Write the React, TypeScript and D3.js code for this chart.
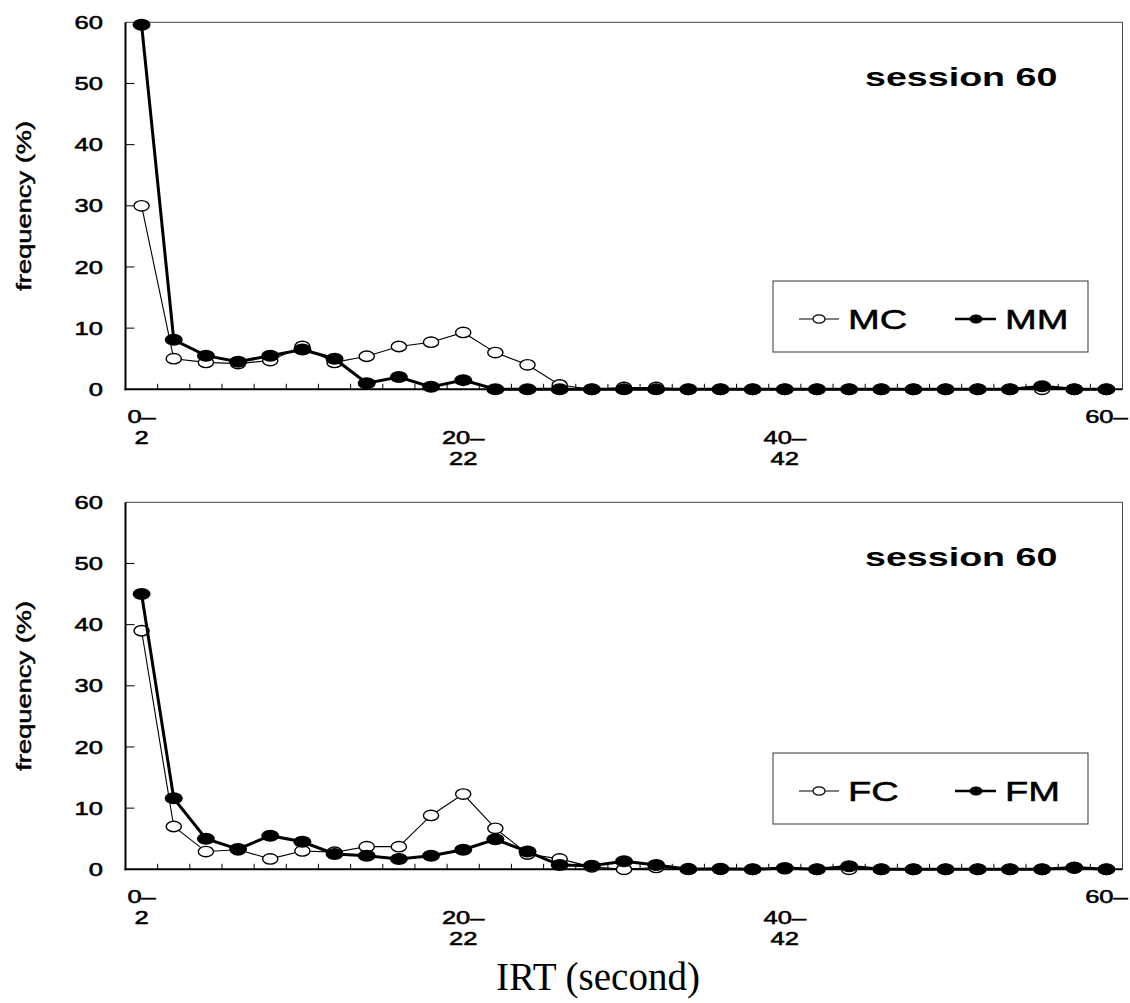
import * as d3 from 'd3';

// IRT bins (start of each 2-second bin)
const binStarts = [0, 2, 4, 6, 8, 10, 12, 14, 16, 18, 20, 22, 24, 26, 28, 30, 32, 34, 36, 38, 40, 42, 44, 46, 48, 50, 52, 54, 56, 58, 60];

// top panel, session 60 (males)
const mcValues = [30, 5.0, 4.4, 4.2, 4.7, 7.0, 4.4, 5.4, 7.0, 7.7, 9.3, 6.0, 4.0, 0.7, 0, 0.3, 0.3, 0, 0, 0, 0, 0, 0, 0, 0, 0, 0, 0, 0, 0, 0];
const mmValues = [59.6, 8.1, 5.5, 4.5, 5.5, 6.5, 5.0, 1.0, 2.0, 0.4, 1.5, 0, 0, 0, 0, 0, 0, 0, 0, 0, 0, 0, 0, 0, 0, 0, 0, 0, 0.5, 0, 0];

// bottom panel, session 60 (females)
const fcValues = [39, 7.0, 2.9, 3.2, 1.7, 3.0, 2.8, 3.7, 3.7, 8.8, 12.3, 6.7, 2.5, 1.7, 0.4, 0, 0.3, 0.1, 0, 0, 0.1, 0, 0, 0, 0, 0, 0, 0, 0, 0.2, 0];
const fmValues = [45, 11.6, 5.0, 3.3, 5.5, 4.5, 2.5, 2.2, 1.7, 2.2, 3.2, 4.9, 2.9, 0.7, 0.6, 1.3, 0.7, 0, 0.1, 0, 0.2, 0, 0.5, 0, 0, 0, 0, 0, 0, 0.3, 0];

const yTicks = [0, 10, 20, 30, 40, 50, 60];
const labelledBins = [0, 20, 40, 60];
const binLabels = [['0–', '2'], ['20–', '22'], ['40–', '42'], ['60–']];

const W = 1130, H = 1003;
const X0 = 125.5, X1 = 1122.5;
const PANEL_H = 367;
const SX = 1.38; // the source font is drawn wide
const SANS = '"Liberation Sans", Arial, sans-serif';

const x = d3.scaleBand<number>().domain(binStarts).range([X0, X1]).padding(0);
const cx = (b: number) => (x(b) as number) + x.bandwidth() / 2;

function Wide({ tx, ty, sx = SX, anchor = 'start', size, weight = 'normal', heavy = 0.55, children }: any) {
  return (
    <g transform={`translate(${tx},${ty}) scale(${sx},1)`}>
      <text textAnchor={anchor} fontSize={size} fontWeight={weight} fontFamily={SANS} fill="#000"
        stroke="#000" strokeWidth={heavy}>
        {children}
      </text>
    </g>
  );
}

function Panel({ top, openVals, filledVals, openName, filledName, legendTop }: any) {
  const y = d3.scaleLinear().domain([0, 60]).range([top + PANEL_H, top]);
  const y0 = y(0);
  const line = d3.line<number>().x((_, i) => cx(binStarts[i])).y(d => y(d));
  const labelRow = [0, 1, 1, 0];
  const rowBase = [33.7, 54.7, 75.7];
  const lgY = legendTop + 38;

  return (
    <g>
      {/* frame */}
      <line x1={X0} x2={X1} y1={top} y2={top} stroke="#444" strokeWidth={1} />
      <line x1={X1} x2={X1} y1={top} y2={y0} stroke="#444" strokeWidth={1} />
      <line x1={X0} x2={X0} y1={top} y2={y0 + 1} stroke="#000" strokeWidth={2} />
      <line x1={X0 - 1} x2={X1} y1={y0} y2={y0} stroke="#000" strokeWidth={2} />

      {yTicks.map(t => (
        <g key={t}>
          {t > 0 && t < 60 && <line x1={X0} x2={X0 + 9} y1={y(t)} y2={y(t)} stroke="#000" strokeWidth={1} />}
          <Wide tx={103} ty={y(t) + 6.6} anchor="end" size={18.5}>{t}</Wide>
        </g>
      ))}

      {binStarts.slice(1).map(b => (
        <line key={b} x1={x(b)} x2={x(b)} y1={y0} y2={y0 - 5.5} stroke="#000" strokeWidth={1} />
      ))}

      {labelledBins.map((b, k) =>
        binLabels[k].map((s, j) => (
          <Wide key={`${b}-${j}`} tx={cx(b)} ty={y0 + rowBase[labelRow[k] + j]} anchor="middle" size={18.5}>{s}</Wide>
        ))
      )}

      <g transform={`translate(31,${top + PANEL_H / 2}) rotate(-90)`}>
        <text textAnchor="middle" fontSize={20} fontFamily={SANS} textLength={170} lengthAdjust="spacingAndGlyphs"
          stroke="#000" strokeWidth={0.45}>frequency (%)</text>
      </g>

      <Wide tx={865} ty={top + 64} size={26.5} weight="bold" sx={1.42} heavy={0}>session 60</Wide>

      {/* open series */}
      <path d={line(openVals) as string} fill="none" stroke="#000" strokeWidth={1.1} />
      {openVals.map((v: number, i: number) => (
        <ellipse key={i} cx={cx(binStarts[i])} cy={y(v)} rx={7.6} ry={5.2} fill="#fff" stroke="#000" strokeWidth={1.4} />
      ))}
      {/* filled series */}
      <path d={line(filledVals) as string} fill="none" stroke="#000" strokeWidth={3} />
      {filledVals.map((v: number, i: number) => (
        <ellipse key={i} cx={cx(binStarts[i])} cy={y(v)} rx={9} ry={6} fill="#000" />
      ))}

      {/* legend */}
      <rect x={773} y={legendTop} width={315} height={71} fill="#fff" stroke="#333" strokeWidth={1} />
      <line x1={799} x2={839} y1={lgY} y2={lgY} stroke="#000" strokeWidth={1} />
      <ellipse cx={819} cy={lgY} rx={6} ry={4.2} fill="#fff" stroke="#000" strokeWidth={1.2} />
      <Wide tx={848} ty={lgY + 10} size={28} sx={1.36} heavy={0.5}>{openName}</Wide>
      <line x1={955} x2={996} y1={lgY} y2={lgY} stroke="#000" strokeWidth={2.5} />
      <ellipse cx={976} cy={lgY} rx={6.5} ry={4.6} fill="#000" />
      <Wide tx={1005} ty={lgY + 10} size={28} sx={1.36} heavy={0.5}>{filledName}</Wide>
    </g>
  );
}

export default function App() {
  return (
    <svg width={W} height={H} style={{ position: 'absolute', left: 0, top: 0, background: '#fff' }}>
      <rect width={W} height={H} fill="#fff" />
      <Panel top={22.3} openVals={mcValues} filledVals={mmValues} openName="MC" filledName="MM" legendTop={281} />
      <Panel top={502.3} openVals={fcValues} filledVals={fmValues} openName="FC" filledName="FM" legendTop={753} />
      <text x={598} y={990} textAnchor="middle" fontSize={39} fontFamily='"Liberation Serif", "Times New Roman", serif'>IRT (second)</text>
    </svg>
  );
}
